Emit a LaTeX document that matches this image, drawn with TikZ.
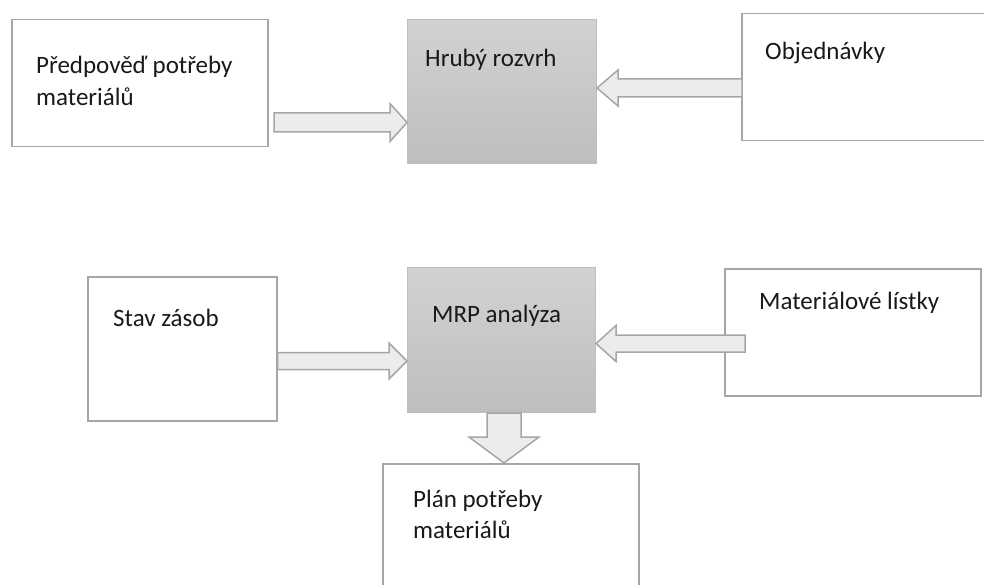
\documentclass[tikz,border=0pt]{standalone}
\usepackage{fontspec}
\setmainfont{Carlito}
\usetikzlibrary{calc}
\definecolor{bordergray}{HTML}{A6A6A6}
\definecolor{arrowfill}{HTML}{ECECEC}
\definecolor{gradtop}{HTML}{D2D2D2}
\definecolor{gradbot}{HTML}{BEBEBE}
\definecolor{gradborder}{HTML}{BFBFBF}
\begin{document}
\begin{tikzpicture}[x=1pt,y=-1pt,
  whitebox/.style={draw=bordergray,line width=1.5pt,fill=white,rectangle,inner sep=0pt,anchor=north west},
  graybox/.style={draw=gradborder,line width=1pt,top color=gradtop,bottom color=gradbot,rectangle,inner sep=0pt,anchor=north west},
  lbl/.style={anchor=base west,inner sep=0pt,font=\fontsize{25}{30}\selectfont,text=black!90},
  blk/.style={draw=bordergray,line width=1.5pt,fill=arrowfill,line join=miter}]
\useasboundingbox (0,0) rectangle (984,585);
% boxes
\node[whitebox,minimum width=256pt,minimum height=127pt] (pr) at (11,19) {};
\node[graybox,minimum width=189pt,minimum height=144pt] (hr) at (407,19) {};
\node[whitebox,minimum width=260pt,minimum height=127pt] (ob) at (741,13) {};
\node[whitebox,minimum width=189pt,minimum height=144pt] (st) at (87,276) {};
\node[graybox,minimum width=188pt,minimum height=145pt] (mrp) at (407,267) {};
\node[whitebox,minimum width=256pt,minimum height=127pt] (ml) at (724,268) {};
\node[whitebox,minimum width=256pt,minimum height=140pt] (pl) at (382,463) {};
% texts
\node[lbl] (t1) at (36,74) {Předpověď potřeby};
\node[lbl] (t1b) at (36,106) {materiálů};
\node[lbl] (t2) at (425,67) {Hrubý rozvrh};
\node[lbl] (t3) at (765,60) {Objednávky};
\node[lbl] (t4) at (113,326) {Stav zásob};
\node[lbl] (t5) at (432,322) {MRP analýza};
\node[lbl] (t6) at (759,309) {Materiálové lístky};
\node[lbl] (t7) at (413,507) {Plán potřeby};
\node[lbl] (t7b) at (413,538) {materiálů};
% arrow anchor coordinates
\coordinate (a1s) at (274,122.5);
\coordinate (a1e) at (hr.west |- a1s);
\coordinate (a2s) at (742,88);
\coordinate (a2e) at (hr.east |- a2s);
\coordinate (a3s) at (st.east |- 0,361);
\coordinate (a3e) at (mrp.west |- a3s);
\coordinate (a4s) at (745,343.5);
\coordinate (a4e) at (mrp.east |- a4s);
\coordinate (a5s) at (504,0 |- mrp.south);
\coordinate (a5e) at (a5s |- pl.north);
% block arrows
\draw[blk] ($(a1s)+(0,-9.5)$) -- ($(a1e)+(-17,-9.5)$) -- ($(a1e)+(-17,-19)$) -- (a1e)
  -- ($(a1e)+(-17,19)$) -- ($(a1e)+(-17,9.5)$) -- ($(a1s)+(0,9.5)$) -- cycle;
\draw[blk] ($(a2s)+(0,-9)$) -- ($(a2e)+(21,-9)$) -- ($(a2e)+(21,-18)$) -- (a2e)
  -- ($(a2e)+(21,18)$) -- ($(a2e)+(21,9)$) -- ($(a2s)+(0,9)$) -- cycle;
\draw[blk] ($(a3s)+(0,-8.5)$) -- ($(a3e)+(-18,-8.5)$) -- ($(a3e)+(-18,-18)$) -- (a3e)
  -- ($(a3e)+(-18,18)$) -- ($(a3e)+(-18,8.5)$) -- ($(a3s)+(0,8.5)$) -- cycle;
\draw[blk] ($(a4s)+(0,-8.5)$) -- ($(a4e)+(20,-8.5)$) -- ($(a4e)+(20,-18)$) -- (a4e)
  -- ($(a4e)+(20,18)$) -- ($(a4e)+(20,8.5)$) -- ($(a4s)+(0,8.5)$) -- cycle;
\draw[blk] ($(a5s)+(-17,0)$) -- ($(a5e)+(-17,-26)$) -- ($(a5e)+(-35,-26)$) -- (a5e)
  -- ($(a5e)+(35,-26)$) -- ($(a5e)+(17,-26)$) -- ($(a5s)+(17,0)$) -- cycle;
\end{tikzpicture}
\end{document}
